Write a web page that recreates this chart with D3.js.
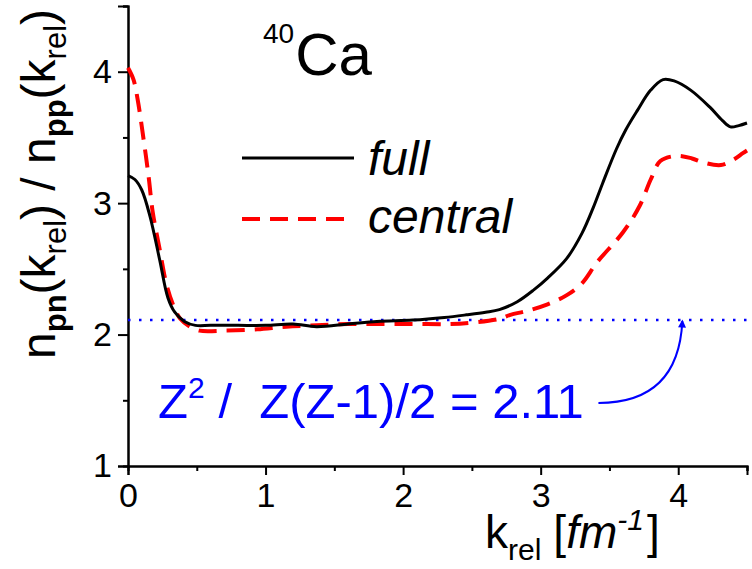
<!DOCTYPE html>
<html>
<head>
<meta charset="utf-8">
<script src="https://cdn.jsdelivr.net/npm/d3@7"></script>
<style>
  body { margin: 0; background: #fff; }
  text { font-family: "Liberation Sans", Arial, sans-serif; }
</style>
</head>
<body>
<div id="chart"></div>
<script>
// data
const kFull = [0, 0.05, 0.10, 0.16, 0.23, 0.29, 0.34, 0.41, 0.49, 0.6, 0.8, 1.0, 1.2, 1.37, 1.6, 1.81, 2.07, 2.3, 2.46, 2.6, 2.7, 2.83, 2.95, 3.05, 3.19, 3.3, 3.38, 3.45, 3.55, 3.62, 3.70, 3.80, 3.89, 3.97, 4.09, 4.23, 4.32, 4.38, 4.44, 4.5];
const full = [3.21, 3.18, 3.10, 2.90, 2.57, 2.28, 2.17, 2.10, 2.07, 2.07, 2.07, 2.07, 2.08, 2.06, 2.08, 2.10, 2.11, 2.13, 2.15, 2.17, 2.19, 2.25, 2.34, 2.43, 2.58, 2.77, 2.96, 3.15, 3.41, 3.56, 3.70, 3.86, 3.94, 3.93, 3.86, 3.73, 3.63, 3.58, 3.59, 3.61];

const kCentral = [0, 0.04, 0.07, 0.11, 0.15, 0.18, 0.23, 0.28, 0.33, 0.38, 0.45, 0.52, 0.7, 0.94, 1.15, 1.37, 1.6, 1.85, 2.1, 2.34, 2.49, 2.7, 2.78, 2.9, 3.05, 3.19, 3.3, 3.41, 3.6, 3.72, 3.80, 3.87, 3.99, 4.1, 4.18, 4.31, 4.40, 4.47, 4.5];
const central = [4.03, 3.94, 3.79, 3.51, 3.20, 2.93, 2.65, 2.38, 2.22, 2.12, 2.06, 2.03, 2.03, 2.04, 2.06, 2.07, 2.08, 2.08, 2.08, 2.08, 2.09, 2.12, 2.15, 2.18, 2.23, 2.30, 2.39, 2.55, 2.78, 2.98, 3.18, 3.32, 3.36, 3.34, 3.31, 3.29, 3.33, 3.38, 3.40];

const ratio = 2.11;
const xTicks = [0, 1, 2, 3, 4];
const yTicks = [1, 2, 3, 4];

const width = 752, height = 569;
const margin = { top: 6, right: 5, bottom: 103, left: 128 };

const x = d3.scaleLinear().domain([0, 4.5]).range([margin.left, width - margin.right]);
const y = d3.scaleLinear().domain([1, 4.5]).range([height - margin.bottom, margin.top]);

const svg = d3.select("#chart").append("svg")
    .attr("width", width).attr("height", height);

svg.append("defs").append("marker")
    .attr("id", "arrow")
    .attr("viewBox", "0 0 10 10")
    .attr("refX", 8).attr("refY", 5)
    .attr("markerWidth", 12).attr("markerHeight", 8)
    .attr("markerUnits", "userSpaceOnUse")
    .attr("orient", "auto")
    .append("path").attr("d", "M0,0 L10,5 L0,10 Z").attr("fill", "#0000ff");

// axes
svg.append("g").attr("transform", "translate(0," + y(1) + ")")
    .call(d3.axisBottom(x).tickValues(xTicks).tickSize(9).tickPadding(8).tickFormat(d3.format("d")));
svg.append("g").attr("transform", "translate(0," + y(1) + ")")
    .call(d3.axisBottom(x).tickValues([0.5, 1.5, 2.5, 3.5, 4.5]).tickSize(5).tickFormat(""));
svg.append("g").attr("transform", "translate(" + x(0) + ",0)")
    .call(d3.axisLeft(y).tickValues(yTicks).tickSize(10).tickPadding(6).tickFormat(d3.format("d")));
svg.append("g").attr("transform", "translate(" + x(0) + ",0)")
    .call(d3.axisLeft(y).tickValues([1.5, 2.5, 3.5, 4.5]).tickSize(5).tickFormat(""));

svg.selectAll(".domain").attr("stroke", "#000").attr("stroke-width", 2);
svg.selectAll(".tick line").attr("stroke", "#000").attr("stroke-width", 2);
svg.selectAll(".tick text").attr("font-size", 34).attr("fill", "#000")
    .style("font-family", "'Liberation Sans', Arial, sans-serif");

// reference line
svg.append("line")
    .attr("x1", x(0)).attr("x2", width)
    .attr("y1", y(ratio)).attr("y2", y(ratio))
    .attr("stroke", "#0000ff").attr("stroke-width", 2.5)
    .attr("stroke-dasharray", "2.5,8.5");

const line = d3.line().curve(d3.curveCatmullRom.alpha(0.5));

svg.append("path")
    .attr("d", line(kCentral.map((k, i) => [x(k), y(central[i])])))
    .attr("fill", "none").attr("stroke", "#ff0000").attr("stroke-width", 4)
    .attr("stroke-dasharray", "18,10");

svg.append("path")
    .attr("d", line(kFull.map((k, i) => [x(k), y(full[i])])))
    .attr("fill", "none").attr("stroke", "#000").attr("stroke-width", 3);

// legend
svg.append("line").attr("x1", 242).attr("x2", 354).attr("y1", 158).attr("y2", 158)
    .attr("stroke", "#000").attr("stroke-width", 3);
svg.append("line").attr("x1", 242).attr("x2", 346).attr("y1", 219).attr("y2", 219)
    .attr("stroke", "#ff0000").attr("stroke-width", 4).attr("stroke-dasharray", "18,10");
svg.append("text").attr("x", 368).attr("y", 175).attr("font-size", 48)
    .attr("font-style", "italic").text("full");
svg.append("text").attr("x", 368).attr("y", 233).attr("font-size", 48)
    .attr("font-style", "italic").text("central");

// title
const title = svg.append("text").attr("x", 263).attr("y", 75);
title.append("tspan").attr("font-size", 28).attr("dy", -32).text("40");
title.append("tspan").attr("font-size", 60).attr("dy", 32).attr("dx", 1).text("Ca");

// annotation
const note = svg.append("text").attr("x", x(0.218)).attr("y", y(1.366))
    .attr("fill", "#0000ff").attr("font-size", 49);
note.append("tspan").text("Z");
note.append("tspan").attr("font-size", 30).attr("dy", -20).text("2");
note.append("tspan").attr("dy", 20).attr("dx", 14).text("/");
note.append("tspan").attr("x", x(0.955)).text("Z(Z-1)/2 = 2.11");

const a0 = [x(3.42), y(1.48)], a1 = [x(4.03), y(ratio) + 1];
svg.append("path")
    .attr("d", "M" + a0 + " Q" + [a1[0] - 4, a0[1]] + " " + a1)
    .attr("fill", "none").attr("stroke", "#0000ff").attr("stroke-width", 2)
    .attr("marker-end", "url(#arrow)");

// axis titles
const xt = svg.append("text").attr("x", 485).attr("y", 548).attr("font-size", 46);
xt.append("tspan").text("k");
xt.append("tspan").attr("font-size", 30).attr("dy", 12).text("rel");
xt.append("tspan").attr("dy", -12).attr("dx", 12).text("[");
xt.append("tspan").attr("font-style", "italic").text("fm");
xt.append("tspan").attr("font-style", "italic").attr("font-size", 30).attr("dy", -18).text("-1");
xt.append("tspan").attr("dy", 18).attr("dx", 3).text("]");

const yt = svg.append("text").attr("transform", "translate(55,184) rotate(-90)")
    .attr("text-anchor", "middle").attr("font-size", 48);
yt.append("tspan").text("n");
yt.append("tspan").attr("font-size", 31).attr("font-weight", "bold").attr("dy", 11).text("pn");
yt.append("tspan").attr("dy", -11).text("(k");
yt.append("tspan").attr("font-size", 31).attr("dy", 11).text("rel");
yt.append("tspan").attr("dy", -11).text(") / n");
yt.append("tspan").attr("font-size", 31).attr("font-weight", "bold").attr("dy", 11).text("pp");
yt.append("tspan").attr("dy", -11).text("(k");
yt.append("tspan").attr("font-size", 31).attr("dy", 11).text("rel");
yt.append("tspan").attr("dy", -11).text(")");
</script>
</body>
</html>
